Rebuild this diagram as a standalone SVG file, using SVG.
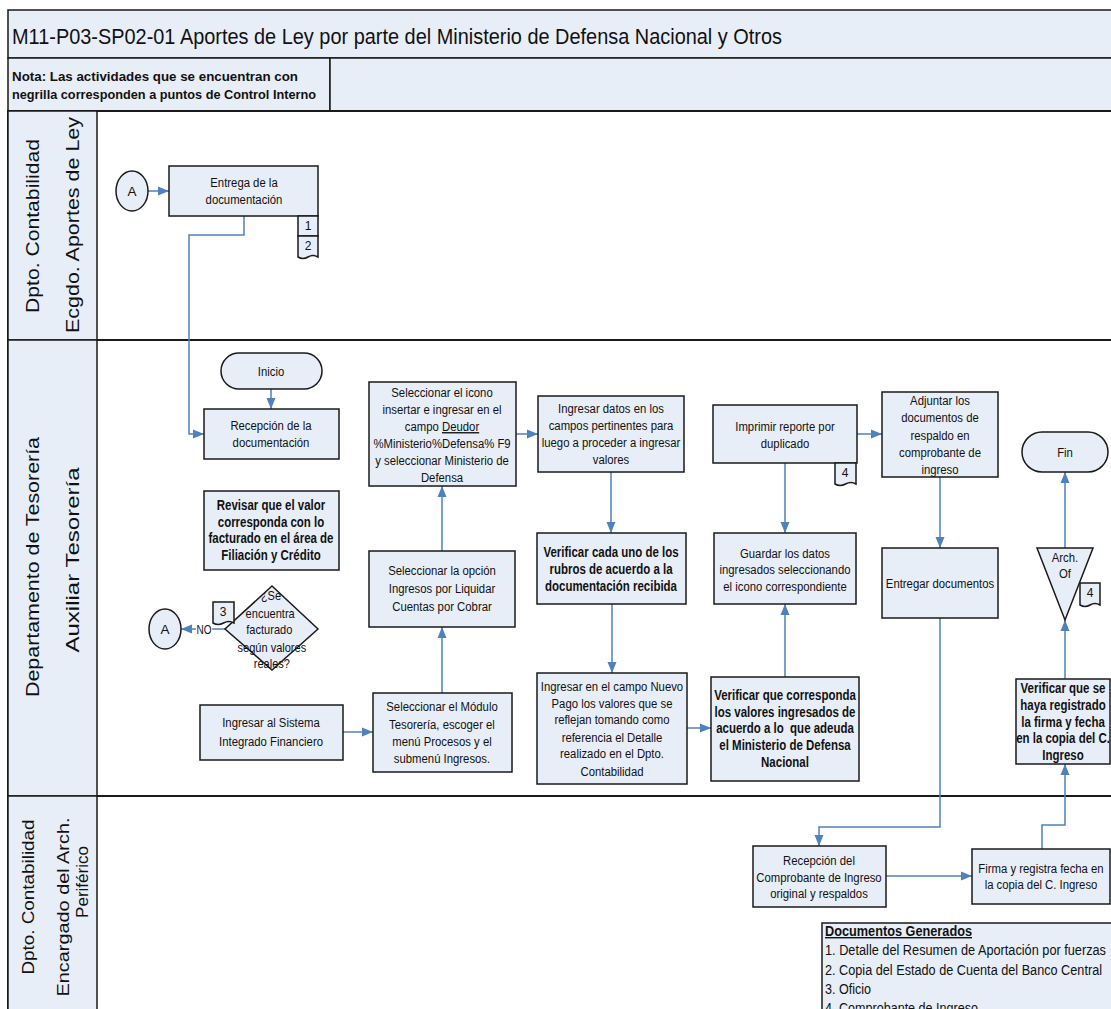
<svg xmlns="http://www.w3.org/2000/svg" width="1111" height="1009" viewBox="0 0 1111 1009">
  <style>
    .cell { fill: #E8EEF7; stroke: #1a1a1a; stroke-width: 1.5; }
    .lane { fill: #FFFFFF; stroke: #1a1a1a; stroke-width: 2; }
    .box { fill: #E8EEF7; stroke: #1a1a1a; stroke-width: 1.5; }
    .t { font-family: "Liberation Sans", Arial, sans-serif; font-size: 13.5px; text-anchor: middle; fill: #111; }
    .b { font-weight: bold; font-size: 14px; }
    .lbl { font-family: "Liberation Sans", Arial, sans-serif; font-size: 19px; text-anchor: middle; fill: #111; }
    .title { font-family: "Liberation Sans", Arial, sans-serif; font-size: 22px; fill: #111; }
    .note { font-family: "Liberation Sans", Arial, sans-serif; font-size: 13px; font-weight: bold; fill: #111; }
    .docs { font-family: "Liberation Sans", Arial, sans-serif; font-size: 14px; fill: #111; }
    .con { fill: none; stroke: #4F81BD; stroke-width: 1.5; marker-end: url(#arrow); }
  </style>
  <defs>
    <marker id="arrow" markerUnits="userSpaceOnUse" markerWidth="12" markerHeight="10" refX="11" refY="5" orient="auto">
      <path d="M0,0.5 L11,5 L0,9.5 z" fill="#4F81BD"/>
    </marker>
  </defs>

  <rect width="1111" height="1009" fill="#FFFFFF"/>

  <!-- header rows -->
  <g id="header">
    <rect class="cell" x="8" y="10" width="1120" height="48"/>
    <text class="title" x="12" y="44" textLength="770" lengthAdjust="spacingAndGlyphs">M11-P03-SP02-01 Aportes de Ley por parte del Ministerio de Defensa Nacional y Otros</text>
    <rect class="cell" x="8" y="58" width="322" height="53"/>
    <rect class="cell" x="330" y="58" width="800" height="53"/>
    <text class="note" x="12" y="81" textLength="286" lengthAdjust="spacingAndGlyphs">Nota: Las actividades que se encuentran con</text>
    <text class="note" x="12" y="99" textLength="304" lengthAdjust="spacingAndGlyphs">negrilla corresponden a puntos de Control Interno</text>
  </g>

  <!-- swimlanes -->
  <g id="lanes">
    <rect class="lane" x="8" y="111" width="1120" height="229"/>
    <rect class="lane" x="8" y="340" width="1120" height="456"/>
    <rect class="lane" x="8" y="796" width="1120" height="230"/>
    <rect class="cell" x="8" y="111" width="89" height="229"/>
    <rect class="cell" x="8" y="340" width="89" height="456"/>
    <rect class="cell" x="8" y="796" width="89" height="230"/>
    <text class="lbl" transform="translate(39,226) rotate(-90)" textLength="174" lengthAdjust="spacingAndGlyphs">Dpto. Contabilidad</text>
    <text class="lbl" transform="translate(79,225) rotate(-90)" textLength="216" lengthAdjust="spacingAndGlyphs">Ecgdo. Aportes de Ley</text>
    <text class="lbl" transform="translate(39,567) rotate(-90)" textLength="260" lengthAdjust="spacingAndGlyphs">Departamento de Tesorería</text>
    <text class="lbl" transform="translate(79,560) rotate(-90)" textLength="185" lengthAdjust="spacingAndGlyphs">Auxiliar Tesorería</text>
    <text class="lbl" style="font-size:17px" transform="translate(34,897) rotate(-90)" textLength="155" lengthAdjust="spacingAndGlyphs">Dpto. Contabilidad</text>
    <text class="lbl" style="font-size:17px" transform="translate(69,907) rotate(-90)" textLength="179" lengthAdjust="spacingAndGlyphs">Encargado del Arch.</text>
    <text class="lbl" style="font-size:17px" transform="translate(88,882) rotate(-90)">Periférico</text>
  </g>

  <!-- connectors -->
  <g id="connectors">
    <path class="con" d="M148,191 H169"/>
    <path class="con" d="M244,216 V235 H189 V434 H204"/>
    <path class="con" d="M271,389 V409"/>
    <path class="con" d="M225,629 H181"/>
    <path class="con" d="M343,732 H373"/>
    <path class="con" d="M442,693 V627"/>
    <path class="con" d="M442,551 V486"/>
    <path class="con" d="M516,434 H538"/>
    <path class="con" d="M611,472 V533"/>
    <path class="con" d="M612,604 V673"/>
    <path class="con" d="M687,728 H711"/>
    <path class="con" d="M785,677 V604"/>
    <path class="con" d="M785,463 V533"/>
    <path class="con" d="M857,434 H882"/>
    <path class="con" d="M940,477 V548"/>
    <path class="con" d="M940,618 V827 H819 V846"/>
    <path class="con" d="M886,876 H972"/>
    <path class="con" d="M1042,849 V825 H1065 V764"/>
    <path class="con" d="M1065,679 V620"/>
    <path class="con" d="M1065,548 V472"/>
    <rect x="196" y="620" width="16" height="17" fill="#FFFFFF"/>
    <text class="t" x="204" y="634" textLength="15" lengthAdjust="spacingAndGlyphs">NO</text>
  </g>

  <!-- lane 1 -->
  <g id="connA1">
    <ellipse class="box" cx="132" cy="191" rx="16" ry="20"/>
    <text class="t" x="132" y="196">A</text>
  </g>
  <g id="entrega">
    <rect class="box" x="169" y="166" width="149" height="50"/>
    <g transform="translate(244 0) scale(0.84 1)">
      <text class="t" x="0" y="187">Entrega de la</text>
      <text class="t" x="0" y="204">documentación</text>
    </g>
  </g>
  <g id="doc12">
    <rect class="box" x="298" y="216" width="20" height="20"/>
    <path class="box" d="M298,236 H318 V257 Q313,254 308,257 T298,257 Z"/>
    <text class="t" style="font-size:12px" x="308" y="230">1</text>
    <text class="t" style="font-size:12px" x="308" y="250">2</text>
  </g>

  <!-- lane 2 -->
  <g id="inicio">
    <rect class="box" x="221" y="353" width="101" height="36" rx="18"/>
    <g transform="translate(271 0) scale(0.84 1)">
      <text class="t" x="0" y="376">Inicio</text>
    </g>
  </g>
  <g id="recepcion">
    <rect class="box" x="204" y="409" width="135" height="50"/>
    <g transform="translate(271 0) scale(0.84 1)">
      <text class="t" x="0" y="430">Recepción de la</text>
      <text class="t" x="0" y="447">documentación</text>
    </g>
  </g>
  <g id="revisar">
    <rect class="box" x="204" y="491" width="135" height="79"/>
    <g transform="translate(271 0) scale(0.82 1)">
      <text class="t b" x="0" y="510">Revisar que el valor</text>
      <text class="t b" x="0" y="527">corresponda con lo</text>
      <text class="t b" x="0" y="543">facturado en el área de</text>
      <text class="t b" x="0" y="560">Filiación y Crédito</text>
    </g>
  </g>
  <g id="decision">
    <path class="box" d="M272,586 L318,629 L272,670 L225,629 Z"/>
    <g transform="translate(271 0) scale(0.85 1)">
      <text class="t" style="font-size:13px" x="0" y="600">¿Se</text>
      <text class="t" style="font-size:13px" x="-1" y="618">encuentra</text>
      <text class="t" style="font-size:13px" x="-2" y="634">facturado</text>
      <text class="t" style="font-size:13px" x="1" y="652">según valores</text>
      <text class="t" style="font-size:13px" x="1" y="668">reales?</text>
    </g>
  </g>
  <g id="doc3">
    <path class="box" d="M213,602 H234 V623 Q229,620 223.5,623 T213,623 Z"/>
    <text class="t" style="font-size:12px" x="223" y="616">3</text>
  </g>
  <g id="connA2">
    <ellipse class="box" cx="165" cy="629" rx="16" ry="20"/>
    <text class="t" x="165" y="634">A</text>
  </g>
  <g id="sistema">
    <rect class="box" x="200" y="705" width="143" height="55"/>
    <g transform="translate(271 0) scale(0.84 1)">
      <text class="t" x="0" y="727">Ingresar al Sistema</text>
      <text class="t" x="0" y="746">Integrado Financiero</text>
    </g>
  </g>
  <g id="modulo">
    <rect class="box" x="373" y="693" width="139" height="79"/>
    <g transform="translate(442 0) scale(0.84 1)">
      <text class="t" x="0" y="711">Seleccionar el Módulo</text>
      <text class="t" x="0" y="729">Tesorería, escoger el</text>
      <text class="t" x="0" y="746">menú Procesos y el</text>
      <text class="t" x="0" y="763">submenú Ingresos.</text>
    </g>
  </g>
  <g id="opcion">
    <rect class="box" x="369" y="551" width="146" height="76"/>
    <g transform="translate(442 0) scale(0.84 1)">
      <text class="t" x="0" y="575">Seleccionar la opción</text>
      <text class="t" x="0" y="593">Ingresos por Liquidar</text>
      <text class="t" x="0" y="611">Cuentas por Cobrar</text>
    </g>
  </g>
  <g id="icono">
    <rect class="box" x="369" y="382" width="147" height="104"/>
    <g transform="translate(442 0) scale(0.84 1)">
      <text class="t" x="0" y="397">Seleccionar el icono</text>
      <text class="t" x="0" y="414">insertar e ingresar en el</text>
      <text class="t" x="0" y="431">campo <tspan text-decoration="underline">Deudor</tspan></text>
      <text class="t" x="0" y="448">%Ministerio%Defensa% F9</text>
      <text class="t" x="0" y="465">y seleccionar Ministerio de</text>
      <text class="t" x="0" y="482">Defensa</text>
    </g>
  </g>
  <g id="datos">
    <rect class="box" x="538" y="396" width="146" height="76"/>
    <g transform="translate(611 0) scale(0.84 1)">
      <text class="t" x="0" y="413">Ingresar datos en los</text>
      <text class="t" x="0" y="430">campos pertinentes para</text>
      <text class="t" x="0" y="447">luego a proceder a ingresar</text>
      <text class="t" x="0" y="464">valores</text>
    </g>
  </g>
  <g id="verificarRubros">
    <rect class="box" x="537" y="533" width="149" height="71"/>
    <g transform="translate(611 0) scale(0.82 1)">
      <text class="t b" x="0" y="557">Verificar cada uno de los</text>
      <text class="t b" x="0" y="574">rubros de acuerdo a la</text>
      <text class="t b" x="0" y="591">documentación recibida</text>
    </g>
  </g>
  <g id="nuevoPago">
    <rect class="box" x="537" y="673" width="150" height="111"/>
    <g transform="translate(612 0) scale(0.84 1)">
      <text class="t" x="0" y="691">Ingresar en el campo Nuevo</text>
      <text class="t" x="0" y="708">Pago los valores que se</text>
      <text class="t" x="0" y="724">reflejan tomando como</text>
      <text class="t" x="0" y="742">referencia el Detalle</text>
      <text class="t" x="0" y="758">realizado en el Dpto.</text>
      <text class="t" x="0" y="776">Contabilidad</text>
    </g>
  </g>
  <g id="verificarValores">
    <rect class="box" x="711" y="677" width="148" height="104"/>
    <g transform="translate(785 0) scale(0.82 1)">
      <text class="t b" x="0" y="700">Verificar que corresponda</text>
      <text class="t b" x="0" y="717">los valores ingresados de</text>
      <text class="t b" x="0" y="733" xml:space="preserve">acuerdo a lo  que adeuda</text>
      <text class="t b" x="0" y="750">el Ministerio de Defensa</text>
      <text class="t b" x="0" y="767">Nacional</text>
    </g>
  </g>
  <g id="guardar">
    <rect class="box" x="714" y="533" width="142" height="71"/>
    <g transform="translate(785 0) scale(0.84 1)">
      <text class="t" x="0" y="558">Guardar los datos</text>
      <text class="t" x="0" y="574">ingresados seleccionando</text>
      <text class="t" x="0" y="591">el icono correspondiente</text>
    </g>
  </g>
  <g id="imprimir">
    <rect class="box" x="713" y="405" width="144" height="58"/>
    <g transform="translate(785 0) scale(0.84 1)">
      <text class="t" x="0" y="431">Imprimir reporte por</text>
      <text class="t" x="0" y="448">duplicado</text>
    </g>
  </g>
  <g id="doc4a">
    <path class="box" d="M835,463 H856 V484 Q851,481 845.5,484 T835,484 Z"/>
    <text class="t" style="font-size:12px" x="845" y="477">4</text>
  </g>
  <g id="adjuntar">
    <rect class="box" x="882" y="392" width="116" height="85"/>
    <g transform="translate(940 0) scale(0.84 1)">
      <text class="t" x="0" y="405">Adjuntar los</text>
      <text class="t" x="0" y="422">documentos de</text>
      <text class="t" x="0" y="440">respaldo en</text>
      <text class="t" x="0" y="457">comprobante de</text>
      <text class="t" x="0" y="474">ingreso</text>
    </g>
  </g>
  <g id="entregar">
    <rect class="box" x="882" y="548" width="116" height="70"/>
    <g transform="translate(940 0) scale(0.84 1)">
      <text class="t" x="0" y="588">Entregar documentos</text>
    </g>
  </g>
  <g id="fin">
    <rect class="box" x="1022" y="432" width="86" height="40" rx="20"/>
    <g transform="translate(1065 0) scale(0.84 1)">
      <text class="t" x="0" y="457">Fin</text>
    </g>
  </g>
  <g id="archivo">
    <path class="box" d="M1037,548 H1093 L1065,620 Z"/>
    <g transform="translate(1065 0) scale(0.84 1)">
      <text class="t" x="0" y="562">Arch.</text>
      <text class="t" x="0" y="578">Of</text>
    </g>
  </g>
  <g id="doc4b">
    <path class="box" d="M1080,583 H1100 V605 Q1095,602 1090,605 T1080,605 Z"/>
    <text class="t" style="font-size:12px" x="1090" y="597">4</text>
  </g>
  <g id="verificarFirma">
    <rect class="box" x="1016" y="679" width="94" height="85"/>
    <g transform="translate(1063 0) scale(0.82 1)">
      <text class="t b" x="0" y="693">Verificar que se</text>
      <text class="t b" x="0" y="710">haya registrado</text>
      <text class="t b" x="0" y="727">la firma y fecha</text>
      <text class="t b" x="0" y="743">en la copia del C.</text>
      <text class="t b" x="0" y="760">Ingreso</text>
    </g>
  </g>

  <!-- lane 3 -->
  <g id="recepcionComprobante">
    <rect class="box" x="753" y="846" width="133" height="61"/>
    <g transform="translate(819 0) scale(0.84 1)">
      <text class="t" x="0" y="865">Recepción del</text>
      <text class="t" x="0" y="882">Comprobante de Ingreso</text>
      <text class="t" x="0" y="898">original y respaldos</text>
    </g>
  </g>
  <g id="firma">
    <rect class="box" x="972" y="849" width="138" height="55"/>
    <g transform="translate(1041 0) scale(0.84 1)">
      <text class="t" x="0" y="873">Firma y registra fecha en</text>
      <text class="t" x="0" y="889">la copia del C. Ingreso</text>
    </g>
  </g>
  <g id="documentos">
    <rect class="box" x="822" y="923" width="300" height="100"/>
    <text class="docs" x="825" y="936" font-weight="bold" text-decoration="underline" textLength="147" lengthAdjust="spacingAndGlyphs">Documentos Generados</text>
    <text class="docs" x="825" y="955" textLength="281" lengthAdjust="spacingAndGlyphs">1. Detalle del Resumen de Aportación por fuerzas</text>
    <text class="docs" x="825" y="975" textLength="277" lengthAdjust="spacingAndGlyphs">2. Copia del Estado de Cuenta del Banco Central</text>
    <text class="docs" x="825" y="994" textLength="46" lengthAdjust="spacingAndGlyphs">3. Oficio</text>
    <text class="docs" x="825" y="1013" textLength="153" lengthAdjust="spacingAndGlyphs">4. Comprobante de Ingreso</text>
  </g>
</svg>
